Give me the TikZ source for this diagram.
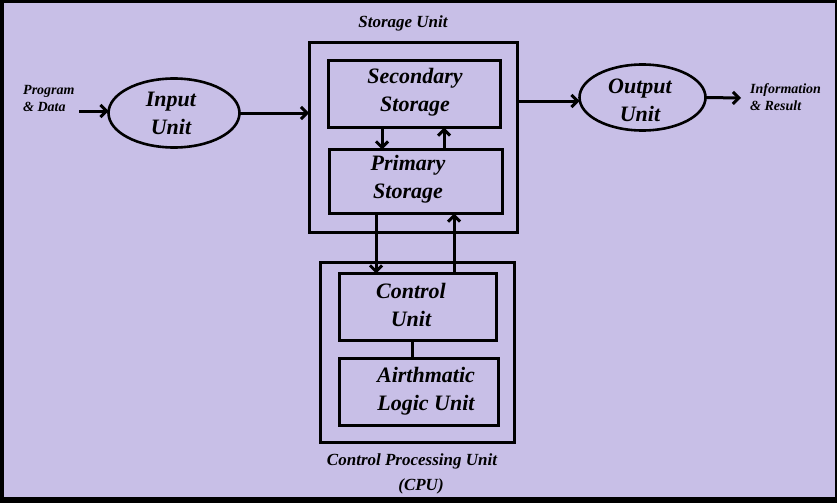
\documentclass[tikz,border=0pt]{standalone}
\usepackage{fontspec}
\setmainfont{Liberation Serif}
\usetikzlibrary{arrows.meta,shapes.geometric}
\definecolor{lav}{RGB}{200,191,231}
\tikzset{
  box/.style={draw=black, line width=3pt, rectangle, inner sep=0, outer sep=0},
  oval/.style={draw=black, line width=2.6pt, ellipse, inner sep=0, outer sep=0},
  arr/.style={line width=3pt, -{Straight Barb[length=6pt,width=12pt]}},
  con/.style={line width=3pt},
  big/.style={font=\fontsize{22}{28}\selectfont\bfseries\itshape, align=center, inner sep=0},
  mid/.style={font=\fontsize{17}{25}\selectfont\bfseries\itshape, align=center, inner sep=0},
  small/.style={font=\fontsize{14}{17}\selectfont\bfseries\itshape, align=left, inner sep=0, anchor=west},
}
\begin{document}
\begin{tikzpicture}[x=1pt,y=-1pt]
\useasboundingbox (0,0) rectangle (837,503);
\fill[black] (0,0) rectangle (837,503);
\fill[lav] (4,3) rectangle (835,497);

% shapes
\node[oval, minimum width=131pt, minimum height=69pt] (input) at (174,113) {};
\node[oval, minimum width=126pt, minimum height=66pt] (output) at (642.5,97.5) {};
\node[box, minimum width=208pt, minimum height=189pt] (stor) at (413,137.5) {};
\node[box, minimum width=172pt, minimum height=67pt] (sec) at (414.5,94) {};
\node[box, minimum width=173pt, minimum height=64pt] (pri) at (416,181.5) {};
\node[box, minimum width=194pt, minimum height=180pt] (cpu) at (417.5,352.5) {};
\node[box, minimum width=157pt, minimum height=67pt] (cu) at (418,307) {};
\node[box, minimum width=159pt, minimum height=67pt] (alu) at (419,392) {};

% texts
\node[big] (tin) at (171,113) {Input\\Unit};
\node[big] (tout) at (640,100) {Output\\Unit};
\node[big] (tsec) at (415,92) {Secondary\\Storage};
\node[big] (tpri) at (408,179) {Primary\\Storage};
\node[big] (tcu) at (411,305) {Control\\Unit};
\node[big] (talu) at (426,391) {Airthmatic\\Logic Unit};
\node[mid] (tstor) at (403,23) {Storage Unit};
\node[mid] (tcpu) at (412,474) {Control Processing Unit\\\hspace*{18pt}(CPU)};
\node[small] (tpd) at (23,98) {Program\\\& Data};
\node[small] (tir) at (750,97) {Information\\\& Result};

% connectors
\coordinate (pdend) at (79,111);
\coordinate (irend) at (741,98);
\draw[arr] (pdend) -- (input.west |- pdend);
\draw[arr] (input.east) -- (stor.west |- input.east);
\draw[arr] (stor.east |- 0,101) -- (output.west |- 0,101);
\draw[arr] (output.east) -- (irend);
\draw[arr] (sec.south -| 382,0) -- (pri.north -| 382,0);
\draw[arr] (pri.north -| 444,0) -- (sec.south -| 444,0);
\draw[arr] (pri.south -| 376,0) -- (cu.north -| 376,0);
\draw[arr] (cu.north -| 454,0) -- (pri.south -| 454,0);
\draw[con] (cu.south -| 412,0) -- (alu.north -| 412,0);
\end{tikzpicture}
\end{document}
